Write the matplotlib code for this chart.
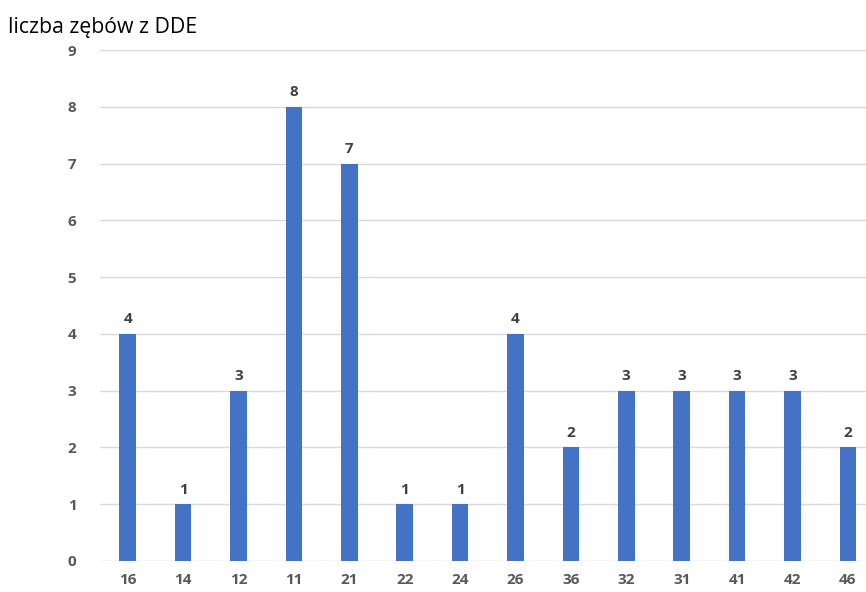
import matplotlib
matplotlib.use("Agg")
import matplotlib.pyplot as plt

teeth = ["16", "14", "12", "11", "21", "22", "24", "26", "36", "32", "31", "41", "42", "46"]
counts = [4, 1, 3, 8, 7, 1, 1, 4, 2, 3, 3, 3, 3, 2]
y_ticks = list(range(0, 10))

bar_color = "#4472C4"
text_gray = "#595959"
grid_gray = "#D9D9D9"

plt.rcParams["font.family"] = ["Open Sans", "DejaVu Sans"]

fig = plt.figure(figsize=(8.66, 5.92), dpi=100)
ax = fig.add_axes([100 / 866, 31 / 592, 775.6 / 866, 511 / 592])

x = range(len(teeth))
bars = ax.bar(x, counts, width=0.30, color=bar_color, zorder=3)

for rect, v in zip(bars, counts):
    ax.annotate(str(v), (rect.get_x() + rect.get_width() / 2, v),
                xytext=(0, 7.5), textcoords="offset points",
                ha="center", va="baseline", fontsize=11, fontweight="bold",
                color="#404040")

ax.set_xlim(-0.5, len(teeth) - 0.5)
ax.set_ylim(0, 9)
ax.set_yticks(y_ticks)
ax.set_xticks(list(x))
ax.set_xticklabels(teeth)
ax.yaxis.grid(True, color=grid_gray, linewidth=1, zorder=0)
ax.set_axisbelow(True)
for s in ax.spines.values():
    s.set_visible(False)
ax.tick_params(axis="both", length=0, labelsize=11, labelcolor=text_gray)
ax.tick_params(axis="y", pad=17)
ax.tick_params(axis="x", pad=9)
for lbl in ax.get_xticklabels() + ax.get_yticklabels():
    lbl.set_fontweight("bold")

fig.text(8 / 866, 1 - 28 / 592, "liczba zębów z DDE", fontsize=15.3,
         color="black", ha="left", va="center")

fig.savefig("out.png", dpi=100)
